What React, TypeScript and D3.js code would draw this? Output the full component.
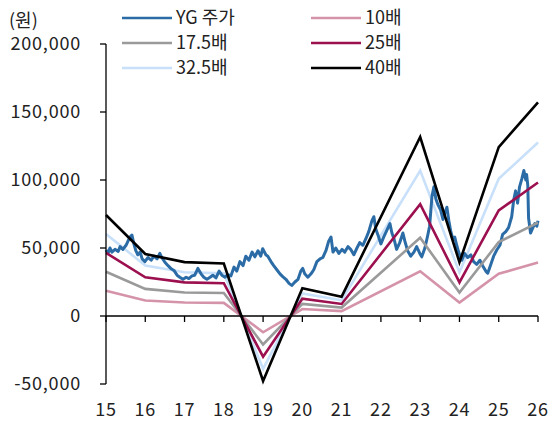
import React, { useRef, useEffect } from 'react';
import * as d3 from 'd3';

// PER band inputs
const bandYears = [15, 16, 17, 18, 19, 20, 21, 23, 24, 25, 26];
const eps = [1857, 1140, 990, 965, -1195, 510, 355, 3290, 987, 3105, 3925];
const multiples = [10, 17.5, 25, 32.5, 40];
const bandColors = ['#D593AA', '#9A9A9A', '#9C1050', '#C8E0FA', '#000000'];

// YG share price (decimal year, won)
const priceDates = [
  15.00, 15.05, 15.10, 15.15, 15.23, 15.31, 15.36, 15.43, 15.51, 15.56,
  15.61, 15.66, 15.71, 15.76, 15.81, 15.87, 15.92, 15.99, 16.07, 16.15,
  16.22, 16.30, 16.37, 16.42, 16.50, 16.58, 16.65, 16.73, 16.81, 16.88,
  16.96, 17.04, 17.11, 17.19, 17.26, 17.34, 17.42, 17.49, 17.57, 17.65,
  17.72, 17.80, 17.88, 17.95, 18.03, 18.10, 18.18, 18.26, 18.33, 18.41,
  18.49, 18.56, 18.64, 18.72, 18.79, 18.87, 18.94, 18.99, 19.07, 19.12,
  19.20, 19.27, 19.35, 19.43, 19.50, 19.58, 19.66, 19.73, 19.81, 19.89,
  19.96, 20.01, 20.06, 20.14, 20.22, 20.29, 20.37, 20.45, 20.52, 20.60,
  20.67, 20.73, 20.78, 20.85, 20.93, 21.01, 21.08, 21.16, 21.23, 21.31,
  21.39, 21.46, 21.54, 21.62, 21.69, 21.77, 21.82, 21.87, 21.92, 22.00,
  22.07, 22.15, 22.23, 22.28, 22.33, 22.40, 22.48, 22.56, 22.61, 22.68,
  22.76, 22.84, 22.91, 22.99, 23.04, 23.12, 23.19, 23.24, 23.30, 23.35,
  23.40, 23.45, 23.52, 23.58, 23.63, 23.68, 23.73, 23.78, 23.83, 23.88,
  23.93, 23.98, 24.06, 24.13, 24.21, 24.29, 24.36, 24.44, 24.52, 24.59,
  24.67, 24.72, 24.80, 24.87, 24.95, 25.03, 25.10, 25.18, 25.25, 25.33,
  25.38, 25.43, 25.48, 25.53, 25.59, 25.64, 25.69, 25.71, 25.74, 25.76,
  25.81, 25.87, 25.92, 25.97, 26.00,
];
const priceValues = [
  48500, 46000, 50000, 47000, 49000, 47500, 51000, 49000, 52000, 55000,
  58000, 59500, 53000, 48000, 45000, 47000, 42000, 40000, 43000, 41000,
  44000, 42000, 46000, 43000, 39500, 37000, 35000, 33500, 30000, 28500,
  27000, 28500, 27500, 29500, 30000, 35000, 31000, 28500, 27000, 28500,
  30000, 28000, 33000, 30000, 28500, 30500, 29500, 36000, 33000, 40000,
  37000, 44000, 41000, 47000, 43500, 48000, 44000, 49500, 45000, 44000,
  40000, 37000, 34000, 31000, 29000, 27000, 24000, 22500, 25000, 27000,
  33000, 35000, 31000, 28500, 31000, 34000, 40000, 42000, 43000, 48000,
  55000, 58000, 47000, 50000, 46000, 49000, 47000, 51000, 49000, 45000,
  50000, 54000, 52000, 57000, 62000, 70000, 73000, 64000, 60000, 53000,
  58000, 63000, 68000, 61000, 57000, 49000, 54000, 61000, 55000, 48000,
  44000, 47000, 51000, 46000, 43500, 50000, 59000, 66000, 88000, 95000,
  86000, 82000, 78000, 71000, 76000, 80000, 70000, 62000, 57000, 58000,
  52000, 47000, 41000, 46000, 43000, 45000, 40000, 38000, 41000, 37000,
  33000, 31500, 38000, 44000, 48500, 52000, 60000, 62000, 65000, 73000,
  85000, 92000, 83000, 95000, 101000, 107000, 100000, 104000, 96000, 72000,
  61000, 65000, 68000, 66000, 70000,
];

const legendItems = ['YG 주가', '10배', '17.5배', '25배', '32.5배', '40배'];
const legendColors = ['#2B6CA6', '#D593AA', '#9A9A9A', '#9C1050', '#C8E0FA', '#000000'];

const yTicks = [-50000, 0, 50000, 100000, 150000, 200000];
const xTicks = [15, 16, 17, 18, 19, 20, 21, 22, 23, 24, 25, 26];

export default function App() {
  const ref = useRef<SVGSVGElement>(null);
  const width = 550;
  const height = 423;
  const font = "'Noto Sans CJK KR', 'Noto Sans', sans-serif";

  useEffect(() => {
    const svg = d3.select(ref.current);
    svg.selectAll('*').remove();

    const x = d3.scaleLinear().domain([15, 26]).range([106, 538]);
    const y = d3.scaleLinear().domain([-50000, 200000]).range([384, 44]);

    const line = d3.line<[number, number]>()
      .x(d => x(d[0]))
      .y(d => y(d[1]));

    const drawBand = (k: number) => {
      const pts = bandYears.map((yr, i) => [yr, eps[i] * multiples[k]] as [number, number]);
      svg.append('path')
        .attr('d', line(pts))
        .attr('fill', 'none')
        .attr('stroke', bandColors[k])
        .attr('stroke-width', 2.6);
    };

    // light blue band sits under the price, the rest above
    drawBand(3);

    const price = priceDates.map((d, i) => [d, priceValues[i]] as [number, number]);
    svg.append('path')
      .attr('d', line(price))
      .attr('fill', 'none')
      .attr('stroke', legendColors[0])
      .attr('stroke-width', 3)
      .attr('stroke-linejoin', 'round');

    [0, 1, 2, 4].forEach(drawBand);

    // y axis
    const yAxis = svg.append('g');
    yAxis.append('line')
      .attr('x1', 106).attr('x2', 106)
      .attr('y1', y(200000)).attr('y2', y(-50000))
      .attr('stroke', '#000').attr('stroke-width', 1.3);
    yTicks.forEach(t => {
      yAxis.append('line')
        .attr('x1', 100).attr('x2', 106)
        .attr('y1', y(t)).attr('y2', y(t))
        .attr('stroke', '#000').attr('stroke-width', 1.3);
      yAxis.append('text')
        .attr('class', 'num')
        .attr('x', 81).attr('y', y(t))
        .attr('dy', '0.35em')
        .attr('text-anchor', 'end')
        .text(d3.format(',')(t).replace('−', '-'));
    });

    // x axis at zero
    const xAxis = svg.append('g');
    xAxis.append('line')
      .attr('x1', x(15)).attr('x2', x(26))
      .attr('y1', y(0)).attr('y2', y(0))
      .attr('stroke', '#000').attr('stroke-width', 1.3);
    xTicks.forEach(t => {
      xAxis.append('line')
        .attr('x1', x(t)).attr('x2', x(t))
        .attr('y1', y(0)).attr('y2', y(0) + 6)
        .attr('stroke', '#000').attr('stroke-width', 1.3);
      xAxis.append('text')
        .attr('class', 'num')
        .attr('x', x(t)).attr('y', 416)
        .attr('text-anchor', 'middle')
        .text(String(t));
    });

    svg.append('text').attr('x', 9).attr('y', 27).text('(원)');

    // legend
    legendItems.forEach((name, i) => {
      const col = i % 2;
      const row = Math.floor(i / 2);
      const lx = col === 0 ? 122 : 311;
      const ly = 18 + row * 25;
      svg.append('line')
        .attr('x1', lx).attr('x2', lx + 50)
        .attr('y1', ly).attr('y2', ly)
        .attr('stroke', legendColors[i]).attr('stroke-width', 2.6);
      svg.append('text')
        .attr('x', lx + 54).attr('y', ly)
        .attr('dy', '0.35em')
        .text(name);
    });

    svg.selectAll('text')
      .attr('font-family', font)
      .attr('font-size', 18)
      .attr('fill', '#222');
    svg.selectAll('text.num').attr('letter-spacing', 0.8);
  }, []);

  return (
    <div style={{ position: 'absolute', left: 0, top: 0 }}>
      <svg ref={ref} width={width} height={height} style={{ display: 'block', background: '#fff' }} />
    </div>
  );
}
